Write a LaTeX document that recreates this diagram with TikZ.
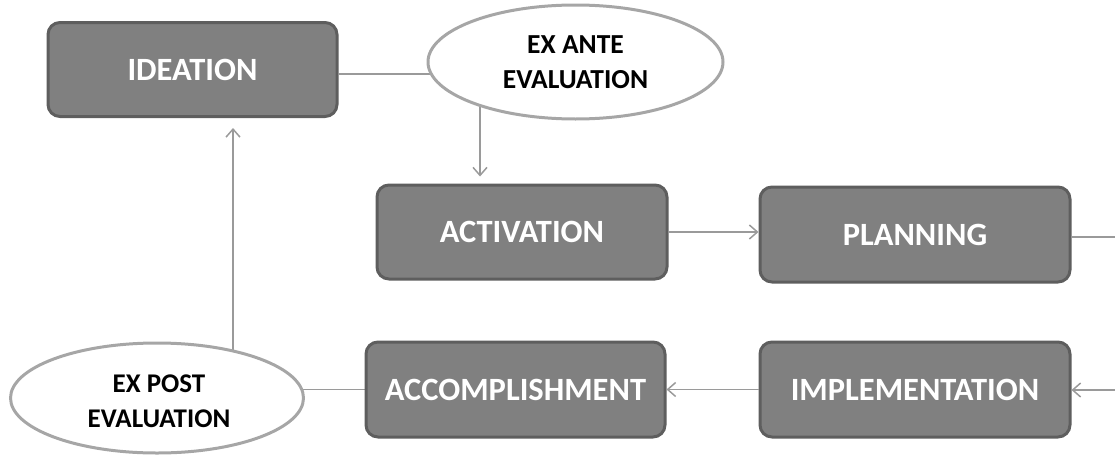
\documentclass[tikz,border=0pt]{standalone}
\usepackage{fontspec}
\setmainfont{Carlito}
\usetikzlibrary{arrows.meta,shapes.geometric,backgrounds}
\definecolor{boxfill}{HTML}{808080}
\definecolor{boxline}{HTML}{5E5E5E}
\definecolor{ellline}{HTML}{A6A6A6}
\definecolor{conn}{HTML}{9A9A9A}
\tikzset{
  stagebox/.style={draw=boxline, line width=3pt, fill=boxfill, rounded corners=12pt,
    text=white, font=\fontsize{32.5}{36}\selectfont\bfseries, inner sep=0pt},
  evalell/.style={ellipse, draw=ellline, line width=3pt, fill=white, inner sep=0pt,
    text=black, align=center, font=\fontsize{27.5}{35}\selectfont\bfseries},
  link/.style={draw=conn, line width=1.5pt},
  arrowlink/.style={link, -{Straight Barb[length=8pt,width=14pt,line width=1.5pt]}},
}
\begin{document}
\begin{tikzpicture}[x=1pt,y=-1pt]
\useasboundingbox (0,0) rectangle (1115,455);
\coordinate (edgeR) at (1115,0);
\node[stagebox, minimum width=289pt, minimum height=94pt] (ideation) at (192.5,69.5) {IDEATION};
\node[evalell, minimum width=295pt, minimum height=114pt] (exante) at (575.5,62) {EX ANTE\\EVALUATION};
\node[stagebox, minimum width=290pt, minimum height=94pt] (activation) at (522,232) {ACTIVATION};
\node[stagebox, minimum width=310pt, minimum height=95pt] (planning) at (915,234.5) {PLANNING};
\node[evalell, minimum width=293pt, minimum height=110pt] (expost) at (157,398) {};
\node[font=\fontsize{27}{35}\selectfont\bfseries, align=center, inner sep=0pt] (expostlabel) at (159,401) {EX POST\\EVALUATION};
\node[stagebox, minimum width=299pt, minimum height=95pt] (accomp) at (515.5,389.5) {ACCOMPLISHMENT};
\node[stagebox, minimum width=310pt, minimum height=95pt] (impl) at (915,389.5) {IMPLEMENTATION};
\begin{scope}[on background layer]
\draw[link] ([yshift=-4.5pt]ideation.east) -- ([yshift=-4.5pt]ideation.east -| exante.center);
\draw[arrowlink, shorten >=7pt] ([xshift=-95.5pt]exante.center) -- ([xshift=-42pt]activation.north);
\draw[link] (accomp.west -| expost.center) -- (accomp.west);
\draw[arrowlink, shorten >=10pt] ([xshift=76pt]expost.center) -- ([xshift=40.5pt]ideation.south);
\end{scope}
\draw[arrowlink] (activation.east) -- (activation.east -| planning.west);
\draw[link] ([yshift=-2.5pt]planning.east) -- ([yshift=-2.5pt]planning.east -| edgeR);
\draw[arrowlink] ([yshift=-0.5pt]impl.east -| edgeR) -- ([yshift=-0.5pt]impl.east);
\draw[arrowlink] (impl.west) -- (accomp.east);
\end{tikzpicture}
\end{document}
